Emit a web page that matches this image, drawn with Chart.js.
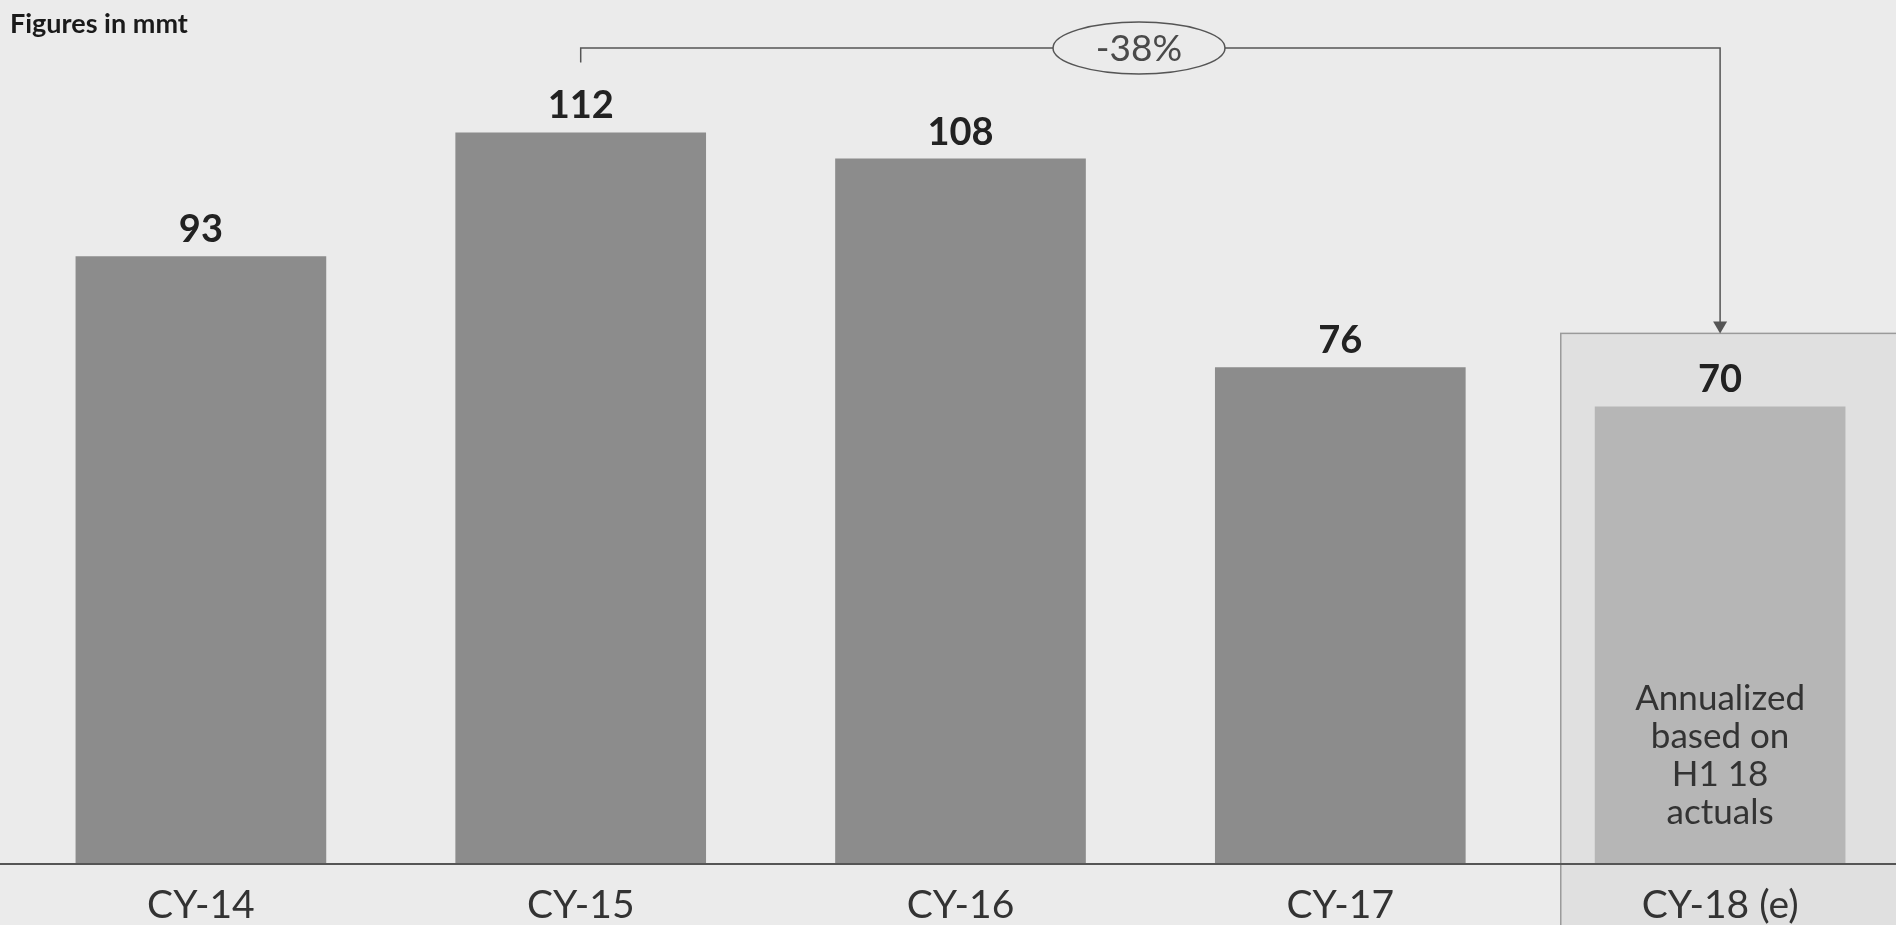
<!DOCTYPE html>
<html lang="en">
  <head>
    <meta charset="UTF-8" />
    <title>Figures in mmt</title>
    <script src="https://cdn.jsdelivr.net/npm/chart.js"></script>
    <style>
      html, body { margin: 0; padding: 0; background: #ebebeb; overflow: hidden; }
      #wrap { position: relative; width: 1910px; height: 925px; }
    </style>
  </head>
  <body>
    <div id="wrap"><canvas id="volChart"></canvas></div>

    <script>
      // values (mmt)
      const years = ['CY-14', 'CY-15', 'CY-16', 'CY-17', 'CY-18 (e)'];
      const volumes = [93, 112, 108, 76, 70];
      const barColors = ['#8c8c8c', '#8c8c8c', '#8c8c8c', '#8c8c8c', '#b6b6b6'];
      const changeLabel = '-38%';
      const noteLines = ['Annualized', 'based on', 'H1 18', 'actuals'];
      const unitNote = 'Figures in mmt';

      const FONT = 'Lato, "Open Sans", sans-serif';

      // draws the estimate box, labels, bracket and arrow
      const annotations = {
        id: 'annotations',
        beforeDraw(chart) {
          // box behind the estimate year, drawn before the axis labels
          const ctx = chart.ctx;
          const bars = chart.getDatasetMeta(0).data;
          const last = bars[bars.length - 1];
          const left = last.x - last.width / 2 - 34;
          const top = last.y - 73;
          ctx.save();
          ctx.fillStyle = '#e0e0e0';
          ctx.fillRect(left, top, chart.width - left, chart.height - top);
          ctx.strokeStyle = '#9a9a9a';
          ctx.lineWidth = 1.5;
          ctx.strokeRect(left, top, chart.width - left + 10, chart.height - top + 10);
          ctx.restore();
        },
        afterDatasetsDraw(chart) {
          const ctx = chart.ctx;
          const area = chart.chartArea;
          const bars = chart.getDatasetMeta(0).data;

          // axis line
          ctx.save();
          ctx.strokeStyle = '#555';
          ctx.lineWidth = 2;
          ctx.beginPath();
          ctx.moveTo(0, area.bottom + 1);
          ctx.lineTo(chart.width, area.bottom + 1);
          ctx.stroke();

          // value labels
          ctx.fillStyle = '#222';
          ctx.font = 'bold 38px ' + FONT;
          ctx.textAlign = 'center';
          ctx.textBaseline = 'alphabetic';
          bars.forEach((bar, i) => {
            ctx.fillText(String(volumes[i]), bar.x, bar.y - 14);
          });

          // note inside the last bar
          const last = bars[bars.length - 1];
          ctx.fillStyle = '#333';
          ctx.font = '35px ' + FONT;
          ctx.textBaseline = 'middle';
          noteLines.forEach((line, i) => {
            ctx.fillText(line, last.x, 699 + i * 38);
          });

          // bracket from CY-15 to CY-18
          const from = bars[1];
          const yTop = 48;
          const boxTop = last.y - 73;
          ctx.strokeStyle = '#555';
          ctx.lineWidth = 1.5;
          ctx.beginPath();
          ctx.moveTo(from.x, from.y - 70);
          ctx.lineTo(from.x, yTop);
          ctx.lineTo(last.x, yTop);
          ctx.lineTo(last.x, boxTop - 10);
          ctx.stroke();
          ctx.fillStyle = '#555';
          ctx.beginPath();
          ctx.moveTo(last.x - 7, boxTop - 12);
          ctx.lineTo(last.x + 7, boxTop - 12);
          ctx.lineTo(last.x, boxTop);
          ctx.closePath();
          ctx.fill();

          // ellipse with change label
          const ex = 1139;
          ctx.fillStyle = '#ebebeb';
          ctx.beginPath();
          ctx.ellipse(ex, yTop, 86, 26, 0, 0, Math.PI * 2);
          ctx.fill();
          ctx.stroke();
          ctx.fillStyle = '#4a4a4a';
          ctx.font = '37px ' + FONT;
          ctx.textBaseline = 'middle';
          ctx.fillText(changeLabel, ex, yTop + 1);

          // unit note
          ctx.fillStyle = '#1a1a1a';
          ctx.font = 'bold 27px ' + FONT;
          ctx.textAlign = 'left';
          ctx.textBaseline = 'alphabetic';
          ctx.fillText(unitNote, 10, 33);
          ctx.restore();
        },
      };

      new Chart(document.getElementById('volChart'), {
        type: 'bar',
        data: {
          labels: years,
          datasets: [
            {
              data: volumes,
              backgroundColor: barColors,
              borderWidth: 0,
              barPercentage: 0.66,
              categoryPercentage: 1,
            },
          ],
        },
        options: {
          responsive: true,
          maintainAspectRatio: false,
          animation: false,
          layout: { padding: { left: 11, right: 0, top: 15, bottom: 0 } },
          plugins: { legend: { display: false }, tooltip: { enabled: false } },
          scales: {
            x: {
              grid: { display: false, drawTicks: false },
              border: { display: false },
              ticks: { color: '#333', font: { family: FONT, size: 39 }, padding: 19, autoSkip: false, maxRotation: 0 },
              afterFit(scale) { scale.height = 62; },
            },
            y: {
              display: false,
              min: 0,
              max: 130,
            },
          },
        },
        plugins: [annotations],
      });
    </script>
  </body>
</html>
